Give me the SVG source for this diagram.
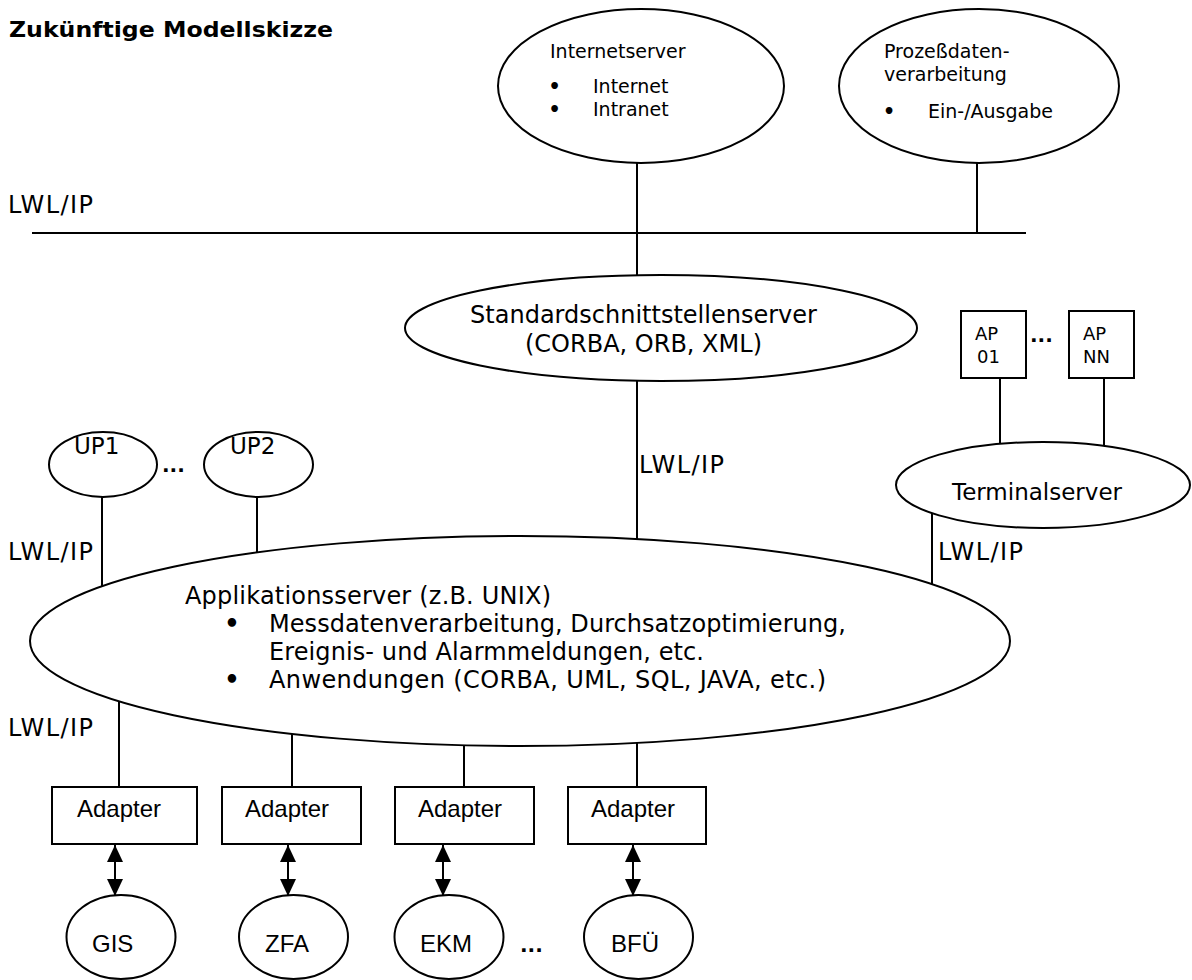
<svg xmlns="http://www.w3.org/2000/svg" width="1192" height="980" viewBox="0 0 1192 980">
  <style>
    .v { font-family: "DejaVu Sans", Verdana, sans-serif; fill: #000; }
    .big { font-size: 24px; }
    .mid { font-size: 23px; }
    .small { font-size: 19px; }
    .tiny { font-size: 18px; }
    .bul { font-weight: bold; }
    .a { font-family: "Liberation Sans", Arial, sans-serif; font-size: 24px; fill: #000; }
    .dots { font-family: "DejaVu Sans", Verdana, sans-serif; font-size: 20px; font-weight: bold; fill: #000; }
    .title { font-family: "DejaVu Sans", Verdana, sans-serif; font-size: 21.5px; font-weight: bold; fill: #000; }
    .shape { fill: #fff; stroke: #000; stroke-width: 2; }
    .wire { fill: none; stroke: #000; stroke-width: 2; }
  </style>
  <defs>
    <marker id="head" viewBox="0 0 17 16" markerWidth="17" markerHeight="16" markerUnits="userSpaceOnUse" refX="17" refY="8" orient="auto-start-reverse">
      <path d="M0,0 L17,8 L0,16 z" fill="#000"/>
    </marker>
  </defs>

  <rect width="1192" height="980" fill="#fff"/>

  <text class="title" x="9" y="37" textLength="324" lengthAdjust="spacingAndGlyphs">Zukünftige Modellskizze</text>

  <!-- network labels -->
  <g id="labels">
    <text class="v big" x="8" y="213" textLength="85">LWL/IP</text>
    <text class="v big" x="639" y="473" textLength="85">LWL/IP</text>
    <text class="v big" x="8" y="560" textLength="85">LWL/IP</text>
    <text class="v big" x="938" y="560" textLength="85">LWL/IP</text>
    <text class="v big" x="8" y="736" textLength="85">LWL/IP</text>
  </g>

  <!-- connectors -->
  <g id="connectors">
    <line class="wire" x1="32" y1="233" x2="1026" y2="233"/>
    <line class="wire" x1="637" y1="160" x2="637" y2="280"/>
    <line class="wire" x1="977" y1="160" x2="977" y2="233"/>
    <line class="wire" x1="637" y1="376" x2="637" y2="546"/>
    <line class="wire" x1="1000" y1="378" x2="1000" y2="450"/>
    <line class="wire" x1="1104" y1="378" x2="1104" y2="452"/>
    <line class="wire" x1="932" y1="508" x2="932" y2="590"/>
    <line class="wire" x1="102" y1="494" x2="102" y2="592"/>
    <line class="wire" x1="257" y1="494" x2="257" y2="558"/>
    <line class="wire" x1="119" y1="696" x2="119" y2="787"/>
    <line class="wire" x1="292" y1="729" x2="292" y2="787"/>
    <line class="wire" x1="464" y1="740" x2="464" y2="787"/>
    <line class="wire" x1="637" y1="738" x2="637" y2="787"/>
    <line class="wire" x1="115" y1="845" x2="115" y2="896" marker-start="url(#head)" marker-end="url(#head)"/>
    <line class="wire" x1="288" y1="845" x2="288" y2="896" marker-start="url(#head)" marker-end="url(#head)"/>
    <line class="wire" x1="443" y1="845" x2="443" y2="896" marker-start="url(#head)" marker-end="url(#head)"/>
    <line class="wire" x1="633" y1="845" x2="633" y2="896" marker-start="url(#head)" marker-end="url(#head)"/>
  </g>

  <g id="internetserver">
    <ellipse class="shape" cx="641" cy="86" rx="143" ry="77"/>
    <text class="v small" x="550" y="58">Internetserver</text>
    <text class="v small bul" x="554.5" y="93" text-anchor="middle">•</text>
    <text class="v small" x="593" y="93">Internet</text>
    <text class="v small bul" x="554.5" y="115.5" text-anchor="middle">•</text>
    <text class="v small" x="593" y="115.5">Intranet</text>
  </g>

  <g id="prozessdaten">
    <ellipse class="shape" cx="979" cy="86" rx="140" ry="77"/>
    <text class="v small" x="884" y="58">Prozeßdaten-</text>
    <text class="v small" x="884" y="81">verarbeitung</text>
    <text class="v small bul" x="889" y="118" text-anchor="middle">•</text>
    <text class="v small" x="928" y="118">Ein-/Ausgabe</text>
  </g>

  <g id="standardserver">
    <ellipse class="shape" cx="661" cy="328" rx="256" ry="53"/>
    <text class="v big" x="643.5" y="323" text-anchor="middle">Standardschnittstellenserver</text>
    <text class="v big" x="643.5" y="352" text-anchor="middle">(CORBA, ORB, XML)</text>
  </g>

  <g id="ap01">
    <rect class="shape" x="961" y="311" width="65" height="67"/>
    <text class="v tiny" x="975" y="340">AP</text>
    <text class="v tiny" x="977" y="363">01</text>
  </g>
  <text class="dots" x="1030" y="342">...</text>
  <g id="apnn">
    <rect class="shape" x="1069" y="311" width="65" height="67"/>
    <text class="v tiny" x="1083" y="340">AP</text>
    <text class="v tiny" x="1083" y="363">NN</text>
  </g>

  <g id="terminalserver">
    <ellipse class="shape" cx="1043" cy="485" rx="147" ry="43"/>
    <text class="v mid" x="952" y="500">Terminalserver</text>
  </g>

  <g id="up1">
    <ellipse class="shape" cx="103" cy="464.5" rx="54" ry="32.5"/>
    <text class="v mid" x="74" y="454">UP1</text>
  </g>
  <text class="dots" x="162" y="472">...</text>
  <g id="up2">
    <ellipse class="shape" cx="258.5" cy="464.5" rx="54.5" ry="32.5"/>
    <text class="v mid" x="230" y="454">UP2</text>
  </g>

  <g id="applikationsserver">
    <ellipse class="shape" cx="520" cy="641" rx="490" ry="105"/>
    <text class="v big" x="185" y="604" textLength="366">Applikationsserver (z.B. UNIX)</text>
    <text class="v big bul" x="232" y="632" text-anchor="middle">•</text>
    <text class="v big" x="269" y="632" textLength="577">Messdatenverarbeitung, Durchsatzoptimierung,</text>
    <text class="v big" x="269" y="660" textLength="435">Ereignis- und Alarmmeldungen, etc.</text>
    <text class="v big bul" x="232" y="688" text-anchor="middle">•</text>
    <text class="v big" x="269" y="688" textLength="557">Anwendungen (CORBA, UML, SQL, JAVA, etc.)</text>
  </g>

  <g id="adapter1">
    <rect class="shape" x="52" y="787" width="145" height="57"/>
    <text class="a" x="77" y="817">Adapter</text>
  </g>
  <g id="adapter2">
    <rect class="shape" x="222" y="787" width="139" height="57"/>
    <text class="a" x="245" y="817">Adapter</text>
  </g>
  <g id="adapter3">
    <rect class="shape" x="395" y="787" width="139" height="57"/>
    <text class="a" x="418" y="817">Adapter</text>
  </g>
  <g id="adapter4">
    <rect class="shape" x="568" y="787" width="138" height="57"/>
    <text class="a" x="591" y="817">Adapter</text>
  </g>

  <g id="gis">
    <ellipse class="shape" cx="121" cy="937" rx="54.5" ry="42"/>
    <text class="a" x="92" y="952">GIS</text>
  </g>
  <g id="zfa">
    <ellipse class="shape" cx="293.5" cy="937" rx="54.5" ry="42"/>
    <text class="a" x="265" y="952">ZFA</text>
  </g>
  <g id="ekm">
    <ellipse class="shape" cx="449" cy="937" rx="54.5" ry="42"/>
    <text class="a" x="420" y="952">EKM</text>
  </g>
  <text class="dots" x="520" y="952">...</text>
  <g id="bfu">
    <ellipse class="shape" cx="638.5" cy="937" rx="54.5" ry="42"/>
    <text class="a" x="611" y="952">BFÜ</text>
  </g>
</svg>
